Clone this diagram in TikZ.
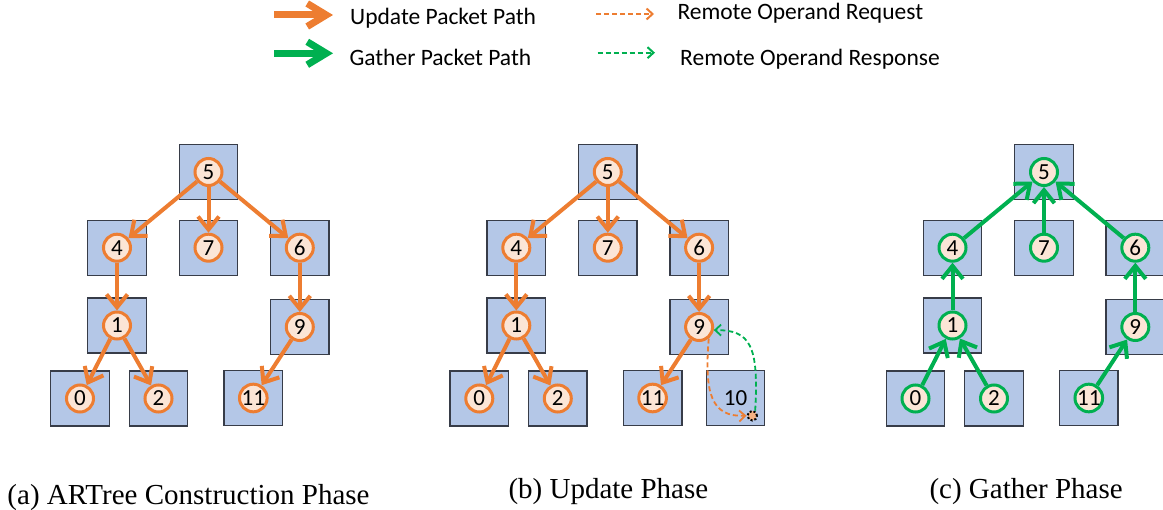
\documentclass[tikz,border=0pt]{standalone}
\usepackage{fontspec}
\setmainfont{Liberation Serif}
\newfontfamily\calfont{Carlito}
\usetikzlibrary{arrows.meta}

\definecolor{updorange}{HTML}{ED7D31}
\definecolor{gathgreen}{HTML}{00B050}
\definecolor{cellblue}{HTML}{B4C7E7}
\definecolor{cellline}{RGB}{55,60,72}
\definecolor{dotfill}{HTML}{FBE5D6}
\definecolor{remfill}{HTML}{F4B183}

\tikzset{
  cell/.style={draw=cellline, fill=cellblue, line width=1.3pt,
    minimum width=58.5pt, minimum height=55pt, inner sep=0pt,
    font=\calfont\fontsize{23}{27}\selectfont},
  vert/.style={circle, draw=#1, fill=dotfill, line width=3pt,
    minimum size=27pt, inner sep=0pt,
    font=\calfont\fontsize{23}{27}\selectfont},
  upd/.style={draw=updorange, line width=4pt,
    -{Straight Barb[length=13pt,width=21pt]}},
  gath/.style={draw=gathgreen, line width=4pt,
    -{Straight Barb[length=13pt,width=21pt]}},
  bigupd/.style={draw=#1, line width=7pt,
    -{Straight Barb[length=19pt,width=23pt]}},
  remote/.style={draw=#1, line width=2pt, dash pattern=on 5pt off 3pt,
    -{Straight Barb[length=6pt,width=11pt]}},
  legtext/.style={anchor=base west, inner sep=0pt,
    font=\calfont\fontsize{23.5}{27}\selectfont},
  caption/.style={anchor=base west, inner sep=0pt,
    font=\fontsize{29}{34}\selectfont},
}

% one tree of vertices: #1 = x offset, #2 = name prefix, #3 = ring colour
\newcommand\artree[3]{%
  \foreach \n/\x/\y in {5/208.5/172, 4/117/247.7, 7/208.5/247.7, 6/299.8/247.7,
                        1/117/325.5, 9/299.8/327, 0/80/398.5, 2/158.5/398.5,
                        11/253.3/398}{%
    \node[cell] (#2cell\n) at ({#1+\x},\y) {};
    \node[vert=#3] (#2\n) at ({#1+\x},\y) {\n};
  }%
}

\begin{document}
\begin{tikzpicture}[x=1pt, y=-1pt]
\useasboundingbox (0,0) rectangle (1163,510);

% legend
\coordinate (lu0) at (274,15);
\coordinate (lu1) at (333,15);
\coordinate (lg0) at (274,53.3);
\coordinate (lg1) at (333,53.3);
\draw[bigupd=updorange] (lu0) -- (lu1);
\draw[bigupd=gathgreen] (lg0) -- (lg1);
\node[legtext] (lut) at (350,25) {Update Packet Path};
\node[legtext] (lgt) at (349.3,65.7) {Gather Packet Path};

\coordinate (lr0) at (596,14);
\coordinate (lr1) at (654,14);
\coordinate (ls0) at (597.5,52.7);
\coordinate (ls1) at (655,52.7);
\draw[remote=updorange] (lr0) -- (lr1);
\draw[remote=gathgreen] (ls0) -- (ls1);
\node[legtext] (lrt) at (677.3,19.3) {Remote Operand Request};
\node[legtext] (lst) at (680,65.7) {Remote Operand Response};

% (a) construction
\artree{0}{a}{updorange}
\foreach \s/\t in {5/4,5/7,5/6,4/1,6/9,1/0,1/2,9/11}
  \draw[upd] (a\s) -- (a\t);

% (b) update
\artree{399.3}{b}{updorange}
\node[cell] (bcell10) at (735.5,397.8) {10};
\foreach \s/\t in {5/4,5/7,5/6,4/1,6/9,1/0,1/2,9/11}
  \draw[upd] (b\s) -- (b\t);
\node[circle, draw=black, fill=remfill, line width=2pt, dotted,
      minimum size=9.5pt, inner sep=0pt] (bdot) at (752.3,415.7) {};
\draw[remote=updorange, line width=1.8pt]
  (b9.-50) .. controls (704,395) and (712,417) .. (bdot.west);
\draw[remote=gathgreen, line width=1.8pt]
  (bdot.60) .. controls (759,345) and (750,330) .. (b9.-12);

% (c) gather
\artree{835.5}{c}{gathgreen}
\foreach \s/\t in {5/4,5/7,5/6,4/1,6/9,1/0,1/2,9/11}
  \draw[gath] (c\t) -- (c\s);

% captions
\node[caption] (capa) at (7.3,504.3) {(a) ARTree Construction Phase};
\node[caption] (capb) at (508.3,498.3) {(b) Update Phase};
\node[caption] (capc) at (929.3,498.3) {(c) Gather Phase};
\end{tikzpicture}
\end{document}
